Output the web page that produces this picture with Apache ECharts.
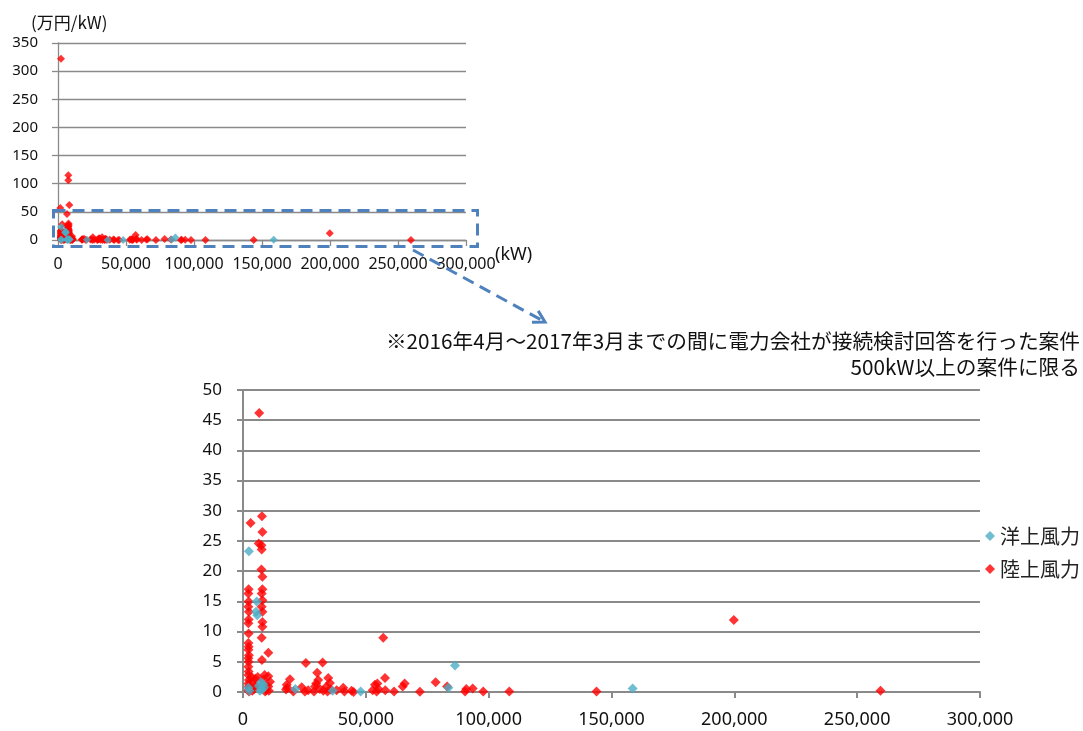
<!DOCTYPE html>
<html><head><meta charset="utf-8">
<script src="https://cdn.jsdelivr.net/npm/echarts@6/dist/echarts.min.js"></script>
<style>html,body{margin:0;padding:0;background:#fff}#c{width:1083px;height:731px}</style>
</head><body><div id="c"></div>
<script>
// ---- data ----
const seriesNames = ['洋上風力', '陸上風力'];
// [capacity kW, cost 万円/kW]
const offshore = [
  [2400, 23.3], [5600, 15.0], [5300, 13.3], [5800, 12.7],
  [2200, 0.7], [2600, 0.2], [6500, 1.0], [7300, 1.6], [8200, 1.3], [7800, 0.4], [6900, 0.2], [8600, 0.8],
  [21300, 0.5], [36500, 0.2], [47900, 0.1], [83600, 0.7], [86300, 4.4], [158600, 0.6]
];
const onshore = [
  // > 50 (only visible in overview chart)
  [2200, 322], [7600, 115], [7600, 106], [8300, 62], [1700, 57],
  // column near 2,000 kW
  [3100, 28.0], [2300, 17.0], [2200, 16.3], [2300, 15.0], [2200, 14.1], [2400, 13.3], [2300, 12.0], [2200, 11.4],
  [2300, 9.7], [2200, 8.1], [2300, 7.5], [2200, 7.0], [2400, 6.1], [2200, 5.6], [2300, 5.0], [2200, 4.2],
  [2300, 3.4], [2200, 2.8], [2400, 2.0], [2200, 1.4], [2300, 0.9], [2200, 0.3], [2500, 0.1],
  [3500, 2.5], [4000, 1.8], [4500, 0.5], [5000, 2.2], [3800, 0.2], [6000, 2.5], [5200, 1.0],
  // column near 7,500 kW
  [6600, 46.2], [7700, 29.1], [7900, 26.5], [6400, 24.6], [7500, 24.3], [7600, 23.6], [7500, 20.3], [7900, 19.1],
  [7900, 17.0], [7600, 16.3], [7900, 15.2], [7600, 14.1], [7900, 13.3], [7900, 11.6], [7900, 10.8], [7600, 9.0],
  [7700, 5.3], [8300, 2.0], [8800, 2.8], [9000, 1.0], [9500, 0.3], [9000, 0.1],
  [10300, 6.5], [10300, 2.6], [11000, 1.7], [10300, 0.9], [10500, 0.2],
  // 17,000 - 27,000 kW
  [19100, 2.1], [17800, 1.2], [17500, 0.4], [20500, 0.1], [18000, 0.7],
  [23900, 0.8], [25200, 0.1], [25600, 4.8], [26500, 0.3],
  // 28,000 - 36,000 kW
  [30200, 3.2], [30600, 2.0], [29800, 1.4], [29300, 0.9], [31300, 0.5], [28900, 0.1], [32400, 4.9], [32700, 0.2],
  [34700, 2.3], [35400, 1.5], [34000, 0.9], [35700, 0.4], [34400, 0.1],
  // 38,000 - 62,000 kW
  [38100, 0.3], [40800, 0.7], [41300, 0.1], [44200, 0.2], [45000, 0.0],
  [52800, 0.3], [53700, 1.2], [54400, 0.1], [55100, 0.5], [54700, 1.4], [57100, 9.0], [57800, 2.3], [57900, 0.3], [61500, 0.1],
  // larger
  [65000, 0.9], [65800, 1.4], [72000, 0.05], [78400, 1.6], [83100, 0.9], [90400, 0.1], [90900, 0.5], [93500, 0.6],
  [97800, 0.1], [108400, 0.1], [143900, 0.1], [199800, 11.9], [259500, 0.2]
];
const topYAxis = { min: 0, max: 350, interval: 50 };
const bottomYAxis = { min: 0, max: 50, interval: 5 };
const xAxisRange = { min: 0, max: 300000, interval: 50000 };
const topYUnit = '(万円/kW)';
const topXUnit = '(kW)';
const noteLines = ['※2016年4月～2017年3月までの間に電力会社が接続検討回答を行った案件', '500kW以上の案件に限る'];

// ---- chart ----
const GRAY = '#8a8a8a';
const RED = '#ff0000';
const CYAN = '#4bacc6';
const fmt = v => v.toLocaleString('en-US');
const numFont = "'Noto Sans', 'DejaVu Sans', sans-serif";
const jpFont = "'Noto Sans CJK JP', 'Noto Sans', sans-serif";

function xAxisCfg(gi, fs, margin, lw) {
  return {
    type: 'value', gridIndex: gi, min: xAxisRange.min, max: xAxisRange.max, interval: xAxisRange.interval,
    axisLine: { show: true, lineStyle: { color: GRAY, width: lw } },
    axisTick: { show: true, inside: false, length: 6, lineStyle: { color: GRAY, width: lw } },
    axisLabel: { fontSize: fs, margin: margin, color: '#111', fontFamily: numFont, formatter: fmt, showMinLabel: true, showMaxLabel: true },
    splitLine: { show: false }
  };
}
function yAxisCfg(gi, r, fs, margin, lw) {
  return {
    type: 'value', gridIndex: gi, min: r.min, max: r.max, interval: r.interval,
    axisLine: { show: true, lineStyle: { color: GRAY, width: lw } },
    axisTick: { show: true, inside: false, length: 6, lineStyle: { color: GRAY, width: lw } },
    axisLabel: { fontSize: fs, margin: margin, color: '#111', fontFamily: numFont },
    splitLine: { show: true, lineStyle: { color: GRAY, width: lw } }
  };
}

const chart = echarts.init(document.getElementById('c'), null, { renderer: 'canvas' });

const W = 1083;
// arrow geometry
const a0 = [413, 250], a1 = [545, 322];
const dx = a1[0] - a0[0], dy = a1[1] - a0[1], L = Math.hypot(dx, dy);
const ux = dx / L, uy = dy / L;
function rot(x, y, ang) { return [x * Math.cos(ang) - y * Math.sin(ang), x * Math.sin(ang) + y * Math.cos(ang)]; }
const wl = 13;
const w1 = rot(ux, uy, Math.PI / 6), w2 = rot(ux, uy, -Math.PI / 6);
const head = [[a1[0] - wl * w1[0], a1[1] - wl * w1[1]], a1, [a1[0] - wl * w2[0], a1[1] - wl * w2[1]]];
const DASHBLUE = '#4f81bd';

chart.setOption({
  animation: false,
  backgroundColor: '#fff',
  grid: [
    { left: 58, right: W - 466, top: 43, bottom: 731 - 240, containLabel: false },
    { left: 243, right: W - 980, top: 390, bottom: 731 - 692, containLabel: false }
  ],
  xAxis: [xAxisCfg(0, 16, 16, 1.3), xAxisCfg(1, 18, 19, 2)],
  yAxis: [yAxisCfg(0, topYAxis, 15, 20, 1.3), yAxisCfg(1, bottomYAxis, 17, 21, 2)],
  legend: {
    data: seriesNames, orient: 'vertical', left: 985, top: 526, itemGap: 13,
    itemWidth: 10, itemHeight: 10, icon: 'diamond',
    textStyle: { fontSize: 20, fontFamily: jpFont, color: '#222' }, padding: 0
  },
  series: [
    { name: seriesNames[1], type: 'scatter', xAxisIndex: 0, yAxisIndex: 0, data: onshore, symbol: 'diamond', symbolSize: 8, itemStyle: { color: RED }, clip: true },
    { name: seriesNames[0], type: 'scatter', xAxisIndex: 0, yAxisIndex: 0, data: offshore, symbol: 'diamond', symbolSize: 8, itemStyle: { color: CYAN }, clip: true },
    { name: seriesNames[1], type: 'scatter', xAxisIndex: 1, yAxisIndex: 1, data: onshore, symbol: 'diamond', symbolSize: 10, itemStyle: { color: RED }, clip: true },
    { name: seriesNames[0], type: 'scatter', xAxisIndex: 1, yAxisIndex: 1, data: offshore, symbol: 'diamond', symbolSize: 10, itemStyle: { color: CYAN }, clip: true }
  ],
  graphic: [
    { type: 'text', left: 31, top: 14, style: { text: topYUnit, fontSize: 17, fontFamily: jpFont, fill: '#111' } },
    { type: 'text', left: 495, top: 246, style: { text: topXUnit, fontSize: 18, fontFamily: numFont, fill: '#111' } },
    { type: 'text', right: 3, top: 331, style: { text: noteLines[0], fontSize: 20.7, fontFamily: jpFont, fill: '#111' } },
    { type: 'text', right: 3, top: 357, style: { text: noteLines[1], fontSize: 20.7, fontFamily: jpFont, fill: '#111' } },
    { type: 'rect', z: 100, shape: { x: 53.5, y: 210.5, width: 424, height: 36 }, style: { fill: 'none', stroke: DASHBLUE, lineWidth: 3, lineDash: [12, 7] } },
    { type: 'line', z: 100, shape: { x1: a0[0], y1: a0[1], x2: a1[0], y2: a1[1] }, style: { stroke: DASHBLUE, lineWidth: 3, lineDash: [12, 7] } },
    { type: 'polyline', z: 100, shape: { points: head }, style: { stroke: DASHBLUE, lineWidth: 3, fill: 'none' } }
  ]
});
</script>
</body></html>
